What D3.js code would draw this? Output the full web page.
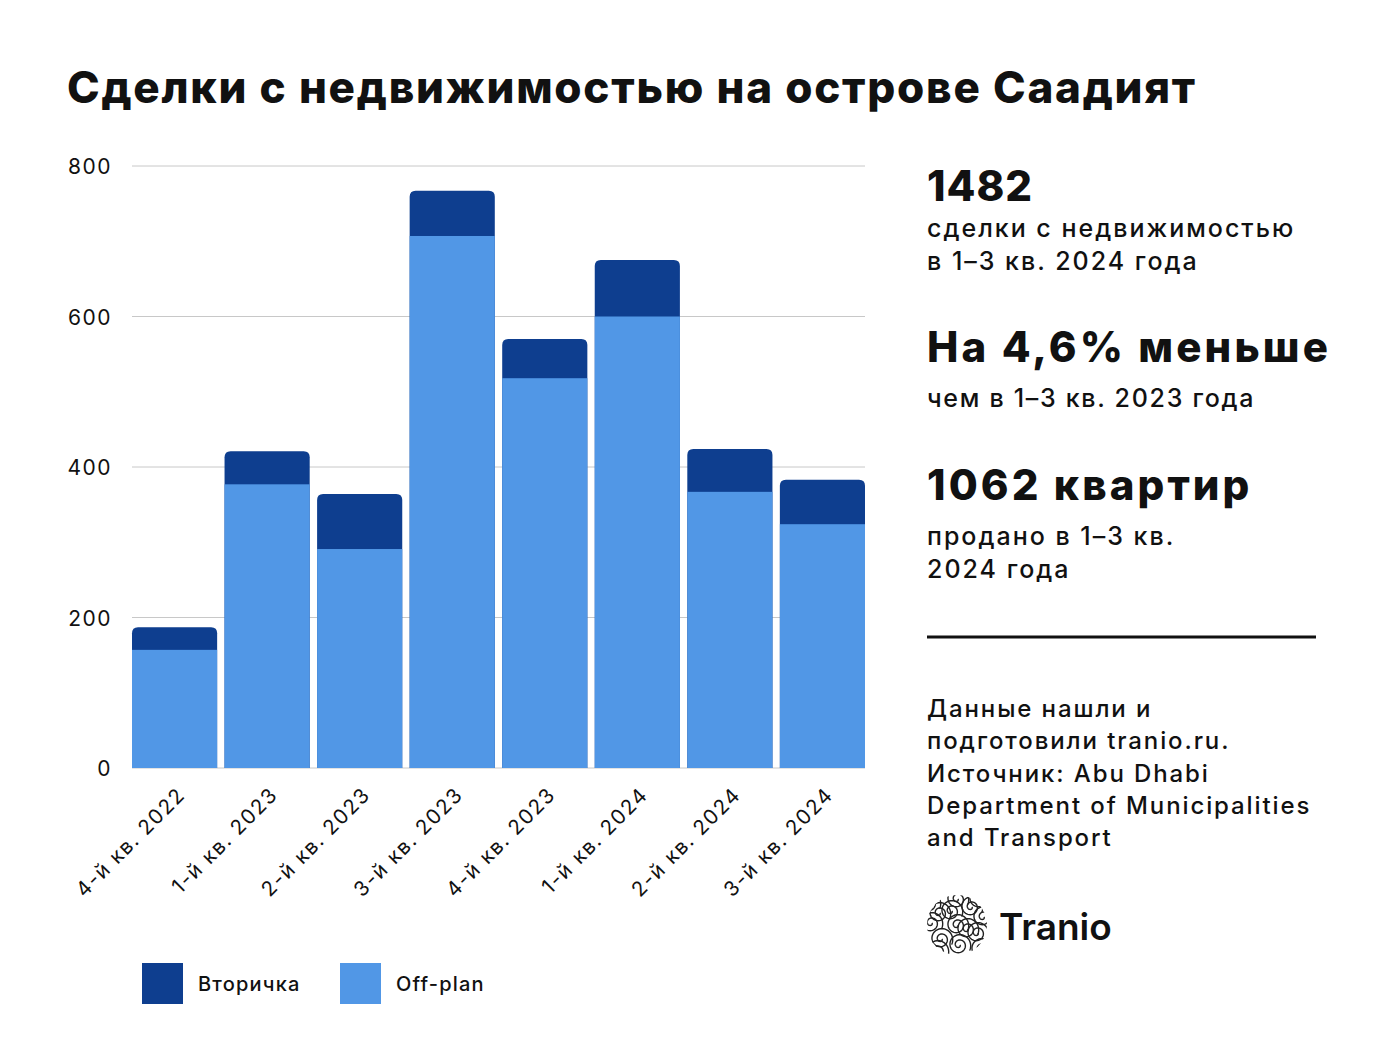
<!DOCTYPE html>
<html><head><meta charset="utf-8">
<script src="https://cdn.jsdelivr.net/npm/d3@7"></script>
<style>
body{margin:0;background:#fff;}
svg text{font-family:Inter,"Noto Sans",sans-serif;fill:#111;}
</style></head>
<body><svg id="c" width="1386" height="1040"></svg>
<script>
const categories = ["4-й кв. 2022","1-й кв. 2023","2-й кв. 2023","3-й кв. 2023","4-й кв. 2023","1-й кв. 2024","2-й кв. 2024","3-й кв. 2024"];
const offPlan = [157, 377, 291, 707, 518, 600, 367, 324];
const secondary = [30, 44, 73, 60, 52, 75, 57, 59];
const yTicks = [0, 200, 400, 600, 800];
const seriesNames = ["Вторичка", "Off-plan"];
const colors = {secondary:"#0e3e8f", offPlan:"#5197e6"};

const svg = d3.select("#c");
svg.append("rect").attr("width",1386).attr("height",1040).attr("fill","#fff");

svg.append("text").attr("x",67).attr("y",103).attr("font-size",44).attr("font-weight",800)
  .attr("letter-spacing",1.75)
  .text("Сделки с недвижимостью на острове Саадият");

const x = d3.scaleBand().domain(categories).range([132,865]).paddingInner(0.08).paddingOuter(0);
const y = d3.scaleLinear().domain([0,800]).range([768,166]);

// grid
svg.append("g").selectAll("line").data(yTicks).join("line")
  .attr("x1",132).attr("x2",865).attr("y1",d=>y(d)).attr("y2",d=>y(d))
  .attr("stroke","#c8c8c8").attr("stroke-width",1);
svg.append("g").selectAll("text").data(yTicks).join("text")
  .attr("x",112).attr("y",d=>y(d)+8).attr("text-anchor","end").attr("font-size",21)
  .attr("letter-spacing",1.5).text(d=>d);

const data = categories.map((c,i)=>({c, off:offPlan[i], sec:secondary[i]}));
const r = 6;
function topRounded(x0,y0,w,h,r){
  return `M${x0},${y0+h}V${y0+r}Q${x0},${y0} ${x0+r},${y0}H${x0+w-r}Q${x0+w},${y0} ${x0+w},${y0+r}V${y0+h}Z`;
}
const bars = svg.append("g");
data.forEach(d=>{
  const bx = x(d.c), bw = x.bandwidth();
  const yTop = y(d.off+d.sec), yMid = y(d.off);
  bars.append("path").attr("d", topRounded(bx, yTop, bw, y(0)-yTop, r)).attr("fill",colors.secondary);
  bars.append("rect").attr("x",bx).attr("y",yMid).attr("width",bw).attr("height",y(0)-yMid).attr("fill",colors.offPlan);
});

// x labels
svg.append("g").selectAll("text").data(categories).join("text")
  .attr("transform",d=>`translate(${x(d)+x.bandwidth()/2+12},${796}) rotate(-45)`)
  .attr("text-anchor","end").attr("font-size",20.5).attr("letter-spacing",1.6).text(d=>d);

// legend
const leg = [{n:seriesNames[0],c:colors.secondary,x:142},{n:seriesNames[1],c:colors.offPlan,x:340}];
leg.forEach(l=>{
  svg.append("rect").attr("x",l.x).attr("y",963).attr("width",41).attr("height",41).attr("fill",l.c);
  svg.append("text").attr("x",l.x+56).attr("y",991).attr("font-size",20).attr("font-weight",500)
    .attr("letter-spacing",1.2).text(l.n);
});

// right panel
const rp = svg.append("g");
const tx = 927;
function big(t,yy){rp.append("text").attr("x",tx).attr("y",yy).attr("font-size",42).attr("font-weight",800).attr("letter-spacing",3.1).text(t);}
function small(t,yy,ls){rp.append("text").attr("x",tx).attr("y",yy).attr("font-size",25).attr("font-weight",500).attr("letter-spacing",ls).text(t);}
rp.append("text").attr("x",tx).attr("y",201).attr("font-size",42).attr("font-weight",800).attr("letter-spacing",1).text("1482");
small("сделки с недвижимостью",237,2);
small("в 1–3 кв. 2024 года",270,2);
big("На 4,6% меньше",362);
small("чем в 1–3 кв. 2023 года",407,1.7);
big("1062 квартир",500);
small("продано в 1–3 кв.",545,2);
small("2024 года",578,2);
rp.append("line").attr("x1",tx).attr("x2",1316).attr("y1",637).attr("y2",637).attr("stroke","#111").attr("stroke-width",3);
["Данные нашли и","подготовили tranio.ru.","Источник: Abu Dhabi","Department of Municipalities","and Transport"].forEach((t,i)=>{
  rp.append("text").attr("x",tx).attr("y",717+i*32.3).attr("font-size",24).attr("font-weight",500)
    .attr("letter-spacing",1.9).text(t);
});

// logo
svg.append("clipPath").attr("id","lc").append("circle").attr("cx",957).attr("cy",925).attr("r",30);
const sw = svg.append("g").attr("clip-path","url(#lc)");
const centers = [[0,0],[-18,-12],[14,-18],[20,8],[-16,14],[2,20],[-26,-2],[0,-26],[26,-8],[-6,-14],[10,4],[-20,26],[24,24],[-28,-22],[22,-26]];
centers.forEach(([cx,cy])=>{
  const pts=[];
  for(let t=0;t<4.2*Math.PI;t+=0.15){const rr=1+t*0.85;pts.push([957+cx+rr*Math.cos(t),925+cy+rr*Math.sin(t)]);}
  sw.append("path").attr("d",d3.line()(pts)).attr("fill","none").attr("stroke","#222").attr("stroke-width",1.4);
});
svg.append("text").attr("x",999).attr("y",940).attr("font-size",37).attr("font-weight",600).text("Tranio");
</script></body></html>
